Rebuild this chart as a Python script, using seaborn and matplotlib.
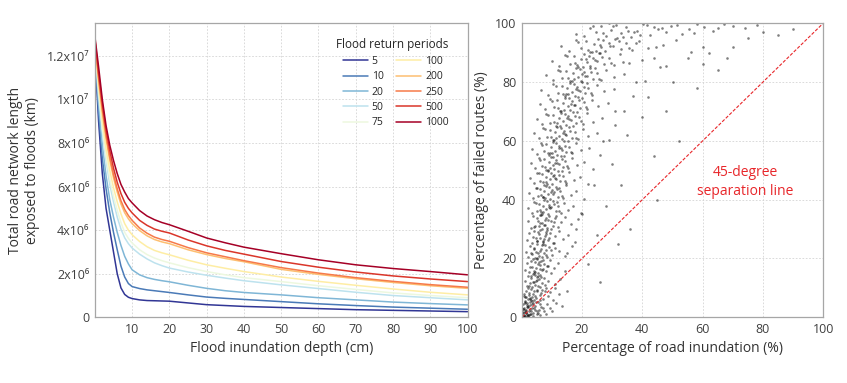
import numpy as np
import pandas as pd
import matplotlib
matplotlib.use("Agg")
import matplotlib.pyplot as plt
import seaborn as sns

# ---- left panel: exposed road length vs inundation depth (values in 1e6 km)
depth_cm = [0, 1, 2, 3, 4, 5, 6, 7, 8, 9, 10, 12, 14, 16, 18, 20, 25, 30, 35, 40, 50, 60, 70, 80, 90, 100]
rp_5 = [12.2, 9.0, 6.6, 5.0, 4.0, 3.0, 2.0, 1.35, 1.05, 0.92, 0.86, 0.80, 0.77, 0.76, 0.75, 0.74, 0.66, 0.58, 0.54, 0.50, 0.45, 0.40, 0.35, 0.32, 0.29, 0.26]
rp_10 = [12.3, 9.4, 7.3, 5.9, 4.8, 3.9, 3.1, 2.35, 1.85, 1.55, 1.41, 1.32, 1.26, 1.22, 1.18, 1.14, 1.03, 0.93, 0.87, 0.82, 0.72, 0.62, 0.54, 0.47, 0.42, 0.37]
rp_20 = [12.4, 9.8, 7.9, 6.5, 5.4, 4.6, 3.9, 3.3, 2.8, 2.45, 2.18, 1.95, 1.82, 1.74, 1.68, 1.63, 1.47, 1.33, 1.22, 1.14, 1.03, 0.90, 0.80, 0.70, 0.63, 0.57]
rp_50 = [12.5, 10.2, 8.5, 7.2, 6.1, 5.3, 4.6, 4.05, 3.65, 3.38, 3.18, 2.90, 2.68, 2.50, 2.37, 2.26, 2.08, 1.93, 1.80, 1.68, 1.49, 1.32, 1.15, 1.00, 0.90, 0.80]
rp_75 = [12.55, 10.4, 8.7, 7.4, 6.35, 5.55, 4.9, 4.35, 3.9, 3.62, 3.41, 3.10, 2.88, 2.72, 2.60, 2.50, 2.28, 2.10, 1.95, 1.82, 1.64, 1.45, 1.28, 1.12, 1.00, 0.90]
rp_100 = [12.6, 10.6, 9.0, 7.75, 6.75, 5.95, 5.3, 4.75, 4.3, 4.0, 3.79, 3.48, 3.24, 3.07, 2.96, 2.87, 2.62, 2.41, 2.25, 2.10, 1.85, 1.65, 1.47, 1.30, 1.15, 1.03]
rp_200 = [12.7, 10.9, 9.4, 8.2, 7.2, 6.4, 5.75, 5.2, 4.8, 4.52, 4.30, 3.98, 3.74, 3.57, 3.46, 3.38, 3.10, 2.88, 2.70, 2.55, 2.20, 1.97, 1.77, 1.60, 1.45, 1.33]
rp_250 = [12.75, 11.0, 9.55, 8.35, 7.35, 6.55, 5.9, 5.35, 4.95, 4.67, 4.45, 4.10, 3.86, 3.68, 3.57, 3.49, 3.20, 2.96, 2.78, 2.60, 2.28, 2.03, 1.82, 1.65, 1.50, 1.38]
rp_500 = [12.8, 11.2, 9.8, 8.6, 7.65, 6.85, 6.2, 5.68, 5.28, 5.0, 4.79, 4.45, 4.22, 4.05, 3.95, 3.87, 3.55, 3.28, 3.07, 2.90, 2.56, 2.30, 2.08, 1.90, 1.76, 1.64]
rp_1000 = [12.9, 11.5, 10.0, 8.8, 7.9, 7.2, 6.6, 6.1, 5.75, 5.45, 5.25, 4.90, 4.65, 4.48, 4.35, 4.25, 3.95, 3.64, 3.42, 3.22, 2.92, 2.64, 2.41, 2.24, 2.10, 1.95]
return_periods = ["5", "10", "20", "50", "75", "100", "200", "250", "500", "1000"]
ytick_vals = [0, 2e6, 4e6, 6e6, 8e6, 1e7, 1.2e7]
ytick_labels = ["0", "2x10⁶", "4x10⁶", "6x10⁶", "8x10⁶", "1x10⁷", "1.2x10⁷"]

inund_pct = [
    # 0-5
    0.2, 0.4, 0.6, 0.9, 1.1, 1.3, 1.6, 1.9, 2.2, 2.5, 2.9, 3.3, 3.8, 4.4, 5.2, 6.1, 7.0, 0.3, 0.7, 1.0, 1.4, 1.8, 2.1, 2.7, 3.1, 3.6, 4.1, 4.9, 5.8, 0.5, 1.2, 2.4,
    # 5-10
    0.6, 1.0, 1.5, 2.0, 2.4, 2.8, 3.1, 3.5, 3.9, 4.2, 4.6, 5.0, 5.4, 5.9, 6.4, 7.0, 7.8, 8.6, 9.5, 11.0, 1.2, 2.2, 3.3, 4.4, 5.2, 6.0, 6.8, 3.7, 2.6, 4.8,
    # 10-15
    1.0, 1.6, 2.1, 2.6, 3.0, 3.4, 3.8, 4.1, 4.5, 4.9, 5.3, 5.7, 6.2, 6.7, 7.3, 8.0, 8.8, 9.7, 11.0, 12.8, 2.4, 3.6, 4.3, 5.0, 5.9, 6.5, 7.6, 3.2, 4.7, 5.5,
    # 15-20
    1.2, 1.9, 2.5, 3.0, 3.4, 3.9, 4.3, 4.7, 5.1, 5.5, 6.0, 6.4, 6.9, 7.4, 8.0, 8.7, 9.5, 10.6, 12.1, 14.5, 2.8, 3.6, 4.5, 5.3, 6.2, 7.1, 8.4, 4.0, 5.8, 6.6,
    # 20-25
    1.4, 2.2, 2.9, 3.5, 4.0, 4.5, 4.9, 5.4, 5.8, 6.3, 6.8, 7.3, 7.9, 8.5, 9.2, 10.0, 11.0, 12.4, 14.2, 16.5, 3.2, 4.2, 5.1, 6.0, 7.0, 8.1, 9.6, 4.7, 6.6, 7.6,
    # 25-30
    1.6, 2.5, 3.3, 4.0, 4.6, 5.1, 5.6, 6.1, 6.6, 7.1, 7.6, 8.2, 8.8, 9.4, 10.2, 11.1, 12.2, 13.6, 15.3, 17.5, 3.7, 4.9, 5.9, 6.9, 8.0, 9.0, 10.6, 5.4, 7.4, 8.5,
    # 30-35
    2.0, 3.0, 3.8, 4.5, 5.1, 5.7, 6.2, 6.8, 7.3, 7.8, 8.4, 9.0, 9.6, 10.3, 11.1, 12.0, 13.1, 14.5, 16.2, 18.5, 4.2, 5.4, 6.5, 7.6, 8.7, 9.8, 11.5, 6.0, 8.1, 10.7,
    # 35-40
    2.2, 3.3, 4.2, 5.0, 5.7, 6.3, 6.9, 7.5, 8.0, 8.6, 9.2, 9.8, 10.5, 11.2, 12.0, 12.9, 14.0, 15.4, 17.1, 19.5, 4.6, 6.0, 7.2, 8.3, 9.5, 10.8, 12.5, 6.6, 8.9, 11.6,
    # 40-45
    2.4, 3.6, 4.6, 5.4, 6.2, 6.9, 7.5, 8.1, 8.7, 9.3, 9.9, 10.6, 11.3, 12.0, 12.8, 13.7, 14.8, 16.2, 18.0, 20.5, 5.0, 6.5, 7.8, 9.0, 10.2, 11.6, 13.3, 7.2, 9.6, 12.4,
    # 45-50
    2.7, 4.0, 5.1, 6.0, 6.8, 7.5, 8.2, 8.8, 9.4, 10.0, 10.6, 11.3, 12.0, 12.8, 13.6, 14.6, 15.8, 17.3, 19.2, 22.0, 5.6, 7.1, 8.5, 9.7, 11.0, 12.4, 14.2, 7.9, 10.3, 13.2,
    # 50-55
    3.0, 4.4, 5.6, 6.6, 7.4, 8.2, 8.9, 9.6, 10.2, 10.8, 11.5, 12.2, 12.9, 13.7, 14.5, 15.5, 16.8, 18.4, 20.5, 23.5, 6.2, 7.8, 9.3, 10.5, 11.8, 13.3, 15.0, 8.6, 11.1, 14.1,
    # 55-60
    3.5, 5.0, 6.3, 7.3, 8.2, 9.0, 9.7, 10.4, 11.1, 11.8, 12.5, 13.2, 14.0, 14.8, 15.7, 16.8, 18.1, 19.8, 22.3, 26.0, 6.8, 8.6, 10.1, 11.5, 12.9, 14.4, 16.2, 9.4, 12.2, 15.2,
    # 60-65
    4.0, 5.8, 7.2, 8.3, 9.3, 10.2, 11.0, 11.8, 12.5, 13.2, 14.0, 14.8, 15.6, 16.5, 17.5, 18.7, 20.2, 22.0, 25.0, 29.0, 7.7, 9.7, 11.4, 12.9, 14.4, 16.0, 18.0, 10.6, 13.6, 17.0,
    # 65-70
    5.0, 6.8, 8.2, 9.4, 10.4, 11.3, 12.2, 13.0, 13.8, 14.6, 15.4, 16.2, 17.0, 17.9, 19.0, 20.2, 21.7, 23.6, 26.5, 31.0, 8.8, 10.8, 12.6, 14.2, 15.8, 17.5, 19.6, 11.8, 15.0, 18.4,
    # 70-75
    6.0, 7.8, 9.3, 10.6, 11.7, 12.7, 13.6, 14.4, 15.2, 16.0, 16.8, 17.6, 18.5, 19.4, 20.5, 21.8, 23.3, 25.3, 28.5, 34.0, 9.9, 12.1, 14.0, 15.6, 17.2, 19.0, 21.2, 13.1, 16.4, 20.0,
    # 75-80
    6.5, 8.8, 10.5, 12.0, 13.2, 14.2, 15.1, 16.0, 16.8, 17.6, 18.4, 19.2, 20.1, 21.0, 22.1, 23.4, 25.0, 27.2, 30.5, 37.0, 11.2, 13.6, 15.5, 17.2, 18.8, 20.6, 22.8, 14.6, 18.0, 21.5,
    # 80-85
    8.0, 10.2, 12.0, 13.5, 14.8, 16.0, 17.0, 17.9, 18.8, 19.7, 20.6, 21.5, 22.5, 23.6, 24.8, 26.2, 28.0, 30.5, 34.0, 41.0, 12.6, 15.2, 17.4, 19.2, 21.0, 23.0, 25.5, 16.5, 20.1, 24.2,
    # 85-90
    10.0, 12.5, 14.5, 16.0, 17.4, 18.6, 19.7, 20.7, 21.7, 22.7, 23.7, 24.8, 26.0, 27.3, 28.8, 30.5, 32.5, 35.5, 40.0, 48.0, 15.0, 17.8, 20.2, 22.2, 24.2, 26.6, 29.5, 18.2, 21.2, 25.5, 33.5, 44.0,
    # 90-95
    13.0, 15.8, 18.0, 19.8, 21.3, 22.7, 24.0, 25.2, 26.4, 27.6, 28.8, 30.1, 31.5, 33.0, 34.7, 36.6, 39.0, 42.0, 47.0, 56.0, 18.8, 21.9, 24.6, 27.0, 29.4, 32.2, 35.5, 23.3, 26.0, 30.8, 38.0, 44.5, 51.0, 60.0,
    # 95-100
    18.0, 20.5, 22.6, 24.5, 26.3, 28.0, 29.6, 31.2, 32.8, 34.5, 36.3, 38.2, 40.3, 42.6, 45.2, 48.0, 51.5, 55.5, 60.5, 67.0, 23.5, 27.1, 30.4, 33.6, 37.2, 41.4, 46.5, 53.0, 58.0, 63.5, 70.0, 74.0, 28.9, 35.3, 39.2, 44.0, 49.5, 57.0, 65.0, 78.0,
    # sparse points right of the band
    15, 18, 20, 22, 24, 25, 27, 28, 30, 31, 33, 35, 36, 38, 40, 42, 44, 46, 48, 50, 52, 55, 58, 60, 62, 65, 68, 70, 75, 80, 85, 90, 26, 32, 45,
    # below the diagonal near the origin
    3.0, 4.5, 5.5, 6.5, 7.5, 8.5, 9.5, 10.5, 11.5, 12.5, 6.0, 8.0, 10.0, 13.5, 15.0,
    # dense corner
    0.1, 0.3, 0.5, 0.8, 1.0, 1.3, 1.5, 1.8, 2.0, 2.3, 2.6, 3.0, 3.4, 0.6, 1.1, 1.7, 2.8, 0.9, 2.1, 3.7,
]
failed_pct = [
    0.4, 1.8, 0.9, 3.2, 0.3, 2.4, 4.1, 1.1, 3.6, 0.7, 2.9, 4.6, 1.5, 3.9, 2.2, 4.4, 3.0, 2.7, 0.2, 4.8, 1.3, 3.4, 0.6, 4.2, 2.0, 0.5, 3.3, 1.0, 2.6, 4.5, 1.7, 2.3,
    7.2, 5.5, 9.1, 6.3, 8.4, 5.1, 9.7, 7.0, 5.8, 8.8, 6.6, 9.4, 5.3, 7.7, 8.2, 6.1, 9.0, 7.4, 8.6, 9.8, 6.8, 9.9, 5.6, 7.3, 8.9, 5.9, 9.3, 8.0, 6.4, 5.2,
    12.4, 10.8, 14.1, 11.5, 13.2, 10.3, 14.7, 12.0, 11.1, 13.8, 10.6, 12.9, 14.3, 11.7, 13.5, 10.1, 12.2, 14.9, 11.3, 13.0, 10.5, 11.9, 14.5, 12.6, 10.2, 13.6, 11.0, 13.9, 12.3, 14.0,
    16.1, 18.4, 15.5, 19.3, 17.0, 15.8, 18.9, 16.6, 19.7, 15.2, 17.8, 19.1, 16.3, 18.2, 15.6, 17.4, 19.5, 16.9, 18.6, 15.9, 17.2, 19.9, 15.4, 18.0, 16.5, 19.4, 17.6, 15.1, 18.8, 16.0,
    22.3, 20.6, 24.2, 21.4, 23.5, 20.2, 24.8, 22.0, 20.9, 23.1, 24.5, 21.7, 22.8, 20.4, 24.0, 21.1, 23.7, 22.5, 20.8, 24.4, 21.9, 23.3, 20.1, 22.6, 24.9, 21.3, 23.0, 22.1, 20.5, 24.6,
    26.4, 28.7, 25.3, 29.5, 27.1, 25.8, 28.2, 26.9, 29.9, 25.5, 27.8, 29.1, 26.2, 28.5, 25.1, 27.5, 29.3, 26.7, 28.0, 25.7, 27.3, 25.9, 29.6, 26.1, 28.4, 27.0, 25.4, 28.9, 26.5, 29.7,
    32.6, 30.4, 34.3, 31.2, 33.7, 30.9, 34.8, 32.0, 31.5, 33.2, 30.2, 34.6, 32.9, 31.0, 33.9, 30.6, 32.3, 34.1, 31.7, 33.4, 30.8, 32.7, 34.9, 31.4, 33.1, 30.1, 34.4, 31.9, 33.6, 32.4,
    37.1, 35.4, 39.2, 36.3, 38.6, 35.9, 37.7, 39.8, 36.8, 35.2, 38.3, 37.4, 39.5, 36.0, 38.0, 35.6, 39.0, 36.6, 37.9, 35.3, 38.9, 36.4, 35.8, 39.6, 37.2, 38.5, 36.1, 35.1, 37.5, 39.3,
    42.2, 40.5, 44.1, 41.3, 43.6, 40.9, 42.8, 44.7, 41.8, 40.3, 43.3, 42.5, 44.4, 41.0, 43.0, 40.7, 44.9, 41.6, 42.9, 40.2, 43.8, 41.5, 40.4, 44.2, 42.0, 43.5, 41.1, 40.8, 42.6, 44.0,
    47.3, 45.6, 49.2, 46.4, 48.7, 45.1, 47.8, 49.6, 46.9, 45.4, 48.3, 47.0, 49.9, 46.2, 48.1, 45.8, 49.4, 46.6, 47.6, 45.3, 48.9, 46.0, 45.2, 49.0, 47.4, 48.5, 46.5, 45.9, 47.9, 49.7,
    52.4, 50.7, 54.3, 51.5, 53.8, 50.2, 52.9, 54.6, 51.9, 50.4, 53.4, 52.1, 54.9, 51.2, 53.1, 50.9, 54.0, 51.7, 52.7, 50.3, 53.6, 51.0, 50.6, 54.4, 52.3, 53.9, 51.4, 50.1, 52.6, 54.7,
    57.2, 55.5, 59.3, 56.4, 58.8, 55.1, 57.9, 59.6, 56.7, 55.3, 58.3, 57.0, 59.9, 56.1, 58.0, 55.7, 59.1, 56.8, 57.6, 55.2, 58.6, 56.0, 55.8, 59.4, 57.4, 58.4, 56.3, 55.9, 57.7, 59.8,
    62.5, 60.8, 64.2, 61.4, 63.7, 60.3, 62.9, 64.6, 61.8, 60.5, 63.3, 62.0, 64.8, 61.1, 63.0, 60.6, 64.0, 61.6, 62.7, 60.2, 63.9, 61.3, 60.9, 64.4, 62.2, 63.5, 61.0, 60.4, 62.6, 64.9,
    67.3, 65.6, 69.2, 66.2, 68.7, 65.1, 67.8, 69.6, 66.8, 65.4, 68.3, 67.0, 69.9, 66.0, 68.1, 65.8, 69.4, 66.5, 67.6, 65.3, 68.9, 66.3, 65.2, 69.0, 67.4, 68.5, 66.6, 65.9, 67.9, 69.7,
    72.4, 70.7, 74.3, 71.5, 73.8, 70.2, 72.9, 74.6, 71.9, 70.4, 73.4, 72.1, 74.9, 71.2, 73.1, 70.9, 74.0, 71.7, 72.7, 70.3, 73.6, 71.0, 70.6, 74.4, 72.3, 73.9, 71.4, 70.1, 72.6, 74.7,
    77.2, 75.5, 79.3, 76.4, 78.8, 75.1, 77.9, 79.6, 76.7, 75.3, 78.3, 77.0, 79.9, 76.1, 78.0, 75.7, 79.1, 76.8, 77.6, 75.2, 78.6, 76.0, 75.8, 79.4, 77.4, 78.4, 76.3, 75.9, 77.7, 79.8,
    82.5, 80.8, 84.2, 81.4, 83.7, 80.3, 82.9, 84.6, 81.8, 80.5, 83.3, 82.0, 84.8, 81.1, 83.0, 80.6, 84.0, 81.6, 82.7, 80.2, 83.9, 81.3, 80.9, 84.4, 82.2, 83.5, 81.0, 80.4, 82.6, 84.9,
    87.3, 85.6, 89.2, 86.2, 88.7, 85.1, 87.8, 89.6, 86.8, 85.4, 88.3, 87.0, 89.9, 86.0, 88.1, 85.8, 89.4, 86.5, 87.6, 85.3, 88.9, 86.3, 85.2, 89.0, 87.4, 88.5, 86.6, 85.9, 87.9, 89.7, 86.9, 88.2,
    92.4, 90.7, 94.3, 91.5, 93.8, 90.2, 92.9, 94.6, 91.9, 90.4, 93.4, 92.1, 94.9, 91.2, 93.1, 90.9, 94.0, 91.7, 92.7, 90.3, 93.6, 91.0, 90.6, 94.4, 92.3, 93.9, 91.4, 90.1, 92.6, 94.7, 93.2, 91.8, 94.2, 92.0,
    96.2, 95.6, 98.3, 97.0, 99.1, 95.8, 97.7, 99.5, 96.5, 98.8, 95.3, 97.4, 99.8, 96.1, 98.0, 96.9, 99.3, 97.9, 98.6, 99.6, 99.0, 96.7, 98.9, 95.4, 97.1, 99.4, 98.2, 96.3, 99.7, 97.5, 99.2, 98.5, 99.9, 97.3, 95.9, 98.7, 99.0, 96.6, 98.4, 99.5,
    22, 30, 35, 18, 45, 28, 60, 38, 52, 70, 45, 62, 30, 80, 68, 75, 55, 85, 70, 80, 60, 88, 78, 86, 90, 84, 88, 92, 95, 97, 96, 98, 12, 25, 40,
    1.0, 2.5, 1.5, 3.5, 2.0, 4.5, 3.0, 6.0, 5.0, 8.0, 0.8, 1.2, 2.2, 4.0, 9.0,
    0.2, 1.4, 2.9, 0.6, 5.1, 1.9, 6.8, 0.4, 3.8, 7.5, 1.2, 5.9, 3.1, 7.9, 2.6, 4.7, 6.3, 0.1, 0.9, 4.9,
]

sns.set_theme(style="whitegrid")
plt.rcParams["font.family"] = ["Open Sans", "DejaVu Sans"]
text_col = "#404040"
grid_kw = dict(color="#d4d4d4", linestyle=(0, (2, 2)), linewidth=0.6)

fig = plt.figure(figsize=(8.47, 3.83), dpi=100)
ax1 = fig.add_axes([0.112, 0.1715, 0.440, 0.768])
ax2 = fig.add_axes([0.616, 0.1715, 0.356, 0.768])

# left panel
series = [rp_5, rp_10, rp_20, rp_50, rp_75, rp_100, rp_200, rp_250, rp_500, rp_1000]
frames = []
for rp, vals in zip(return_periods, series):
    frames.append(pd.DataFrame({"depth": depth_cm, "length": np.array(vals) * 1e6, "rp": rp}))
curves = pd.concat(frames)
pal = [plt.get_cmap("RdYlBu_r")(v) for v in np.linspace(0, 1, len(return_periods))]
sns.lineplot(data=curves, x="depth", y="length", hue="rp", hue_order=return_periods,
             palette=pal, linewidth=1.1, ax=ax1)
ax1.set_xlim(0, 100)
ax1.set_ylim(0, 1.35e7)
ax1.set_xticks(range(10, 101, 10))
ax1.set_yticks(ytick_vals)
ax1.set_yticklabels(ytick_labels)
ax1.set_xlabel("Flood inundation depth (cm)", fontsize=10, color="#333333", labelpad=4)
ax1.set_ylabel("Total road network length\nexposed to floods (km)", fontsize=10, color="#333333", labelpad=5)
leg = ax1.legend(title="Flood return periods", ncol=2, frameon=False, fontsize=7.5,
                 title_fontsize=8.5, loc="upper right", bbox_to_anchor=(0.975, 0.98),
                 handlelength=2.4, columnspacing=1.2, labelspacing=0.42, handletextpad=0.4)
leg._legend_box.align = "right"

# right panel
cloud = pd.DataFrame({"inund": inund_pct, "failed": failed_pct})
sns.scatterplot(data=cloud, x="inund", y="failed", color="black", s=3.5, alpha=0.5,
                linewidth=0, ax=ax2)
ax2.plot([0, 100], [0, 100], color="#e8262a", linestyle=(0, (3, 1.5)), linewidth=0.8)
ax2.text(74, 46, "45-degree\nseparation line", color="#e8262a", fontsize=10,
         ha="center", va="center", linespacing=1.3)
ax2.set_xlim(0, 100)
ax2.set_ylim(0, 100)
ax2.set_xticks(range(20, 101, 20))
ax2.set_yticks(range(0, 101, 20))
ax2.set_xlabel("Percentage of road inundation (%)", fontsize=10, color="#333333", labelpad=4)
ax2.set_ylabel("Percentage of failed routes (%)", fontsize=10, color="#333333", labelpad=4)

for ax in (ax1, ax2):
    ax.grid(True, **grid_kw)
    ax.tick_params(length=0, labelsize=9, colors=text_col, pad=4)
    for sp in ax.spines.values():
        sp.set_color("#a6a6a6")
        sp.set_linewidth(0.9)

fig.savefig("out.png", dpi=100)
